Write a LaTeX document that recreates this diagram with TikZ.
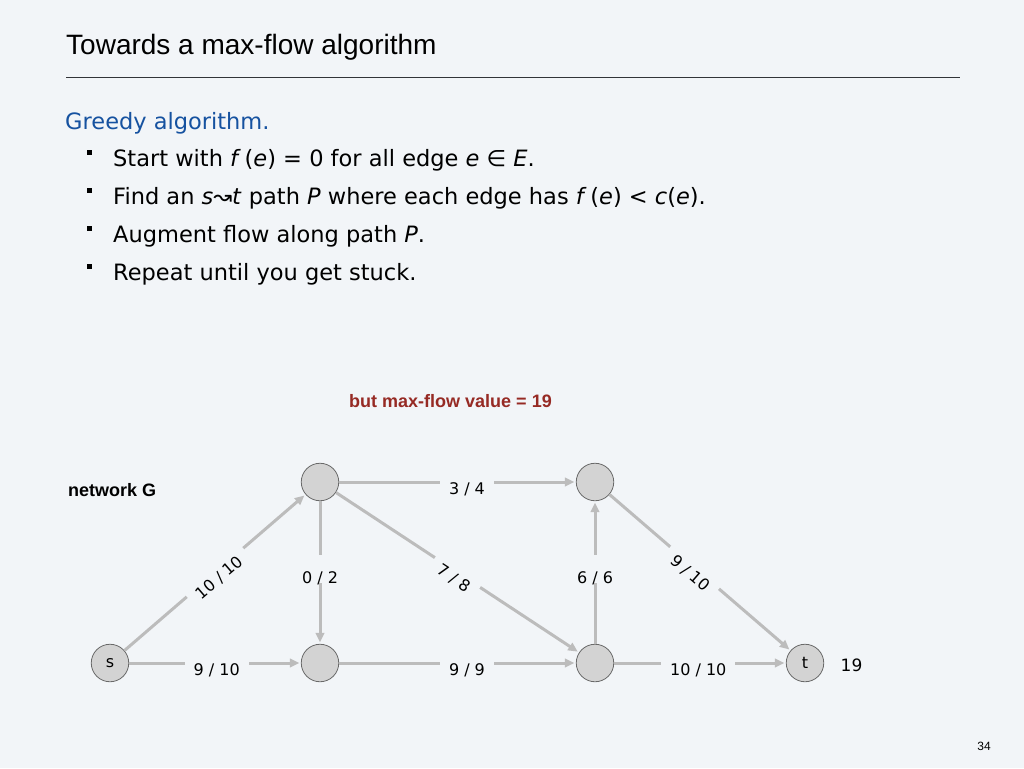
\documentclass[tikz,border=0pt]{standalone}
\usepackage{fontspec}
\setmainfont{DejaVu Sans}
\newfontfamily\arial{Liberation Sans}
\usetikzlibrary{arrows.meta}
\definecolor{bg}{RGB}{242,245,248}
\definecolor{edgegray}{RGB}{188,188,188}
\definecolor{nodegray}{RGB}{211,211,211}
\definecolor{nodeline}{RGB}{105,105,105}
\definecolor{rulegray}{RGB}{50,52,56}
\definecolor{headblue}{RGB}{22,82,160}
\definecolor{darkred}{RGB}{150,42,36}
\tikzset{
  vertex/.style={circle, minimum size=37.5pt, inner sep=0pt, fill=nodegray, draw=nodeline, line width=0.8pt, font=\fontsize{16}{18}\selectfont},
  edge/.style={draw=edgegray, line width=3pt, -{Triangle[length=9.5pt,width=8.5pt]}, shorten >=1.5pt},
  lab/.style={fill=bg, font=\fontsize{16}{18}\selectfont, inner xsep=9pt, inner ysep=3pt, text=black},
  slab/.style={lab, midway, sloped, anchor=north, outer ysep=-2.5pt},
  hlab/.style={lab, anchor=north, outer ysep=-2.5pt},
  vlab/.style={lab, midway, text height=28pt, text depth=0pt, inner ysep=0pt, inner xsep=2pt, yshift=3.5pt},
  bul/.style={fill=black},
  body/.style={anchor=base west, inner sep=0pt, font=\fontsize{22.5}{26}\selectfont}
}
\begin{document}
\begin{tikzpicture}[x=1pt,y=-1pt]
\fill[bg] (0,0) rectangle (1024,768);
\useasboundingbox (0,0) rectangle (1024,768);

% title
\node[anchor=base west, inner sep=0pt, font=\arial\fontsize{28}{32}\selectfont] (title) at (66,55) {Towards a max-flow algorithm};
\draw[rulegray, line width=1.4pt] (66,77.5) -- (960,77.5);

% text
\node[body, text=headblue] (greedy) at (65,129) {Greedy algorithm.};
\fill[bul] (86.5,149.5) rectangle (91.5,154.5);
\node[body] (b1) at (113,166.5) {Start with \textit{f}\,(\textit{e}) = 0 for all edge \textit{e} ∈ \textit{E}.};
\fill[bul] (86.5,187.5) rectangle (91.5,192.5);
\node[body] (b2) at (113,204.5) {Find an \textit{s}↝\textit{t} path \textit{P} where each edge has \textit{f}\,(\textit{e}) < \textit{c}(\textit{e}).};
\fill[bul] (86.5,225.5) rectangle (91.5,230.5);
\node[body] (b3) at (113,242.5) {Augment flow along path \textit{P}.};
\fill[bul] (86.5,263.5) rectangle (91.5,268.5);
\node[body] (b4) at (113,280.5) {Repeat until you get stuck.};

\node[anchor=base, inner sep=0pt, text=darkred, font=\arial\bfseries\fontsize{18}{20}\selectfont] (maxflow) at (450.5,407) {but max-flow value = 19};
\node[anchor=base west, inner sep=0pt, font=\arial\bfseries\fontsize{18}{20}\selectfont] (netg) at (68,496) {network G};

% graph
\node[vertex] (s) at (110,663) {s};
\node[vertex] (a) at (320,482) {};
\node[vertex] (b) at (320,663) {};
\node[vertex] (c) at (595,482) {};
\node[vertex] (d) at (595,663) {};
\node[vertex] (t) at (805,663) {t};

\draw[edge] (s) -- node[slab] {10 / 10} (a);
\draw[edge] (s) -- node[hlab, pos=0.51] {9 / 10} (b);
\draw[edge] (a) -- node[vlab] {0 / 2} (b);
\draw[edge] (a) -- node[hlab, pos=0.54] {3 / 4} (c);
\draw[edge] (a) -- node[slab] {7 / 8} (d);
\draw[edge] (b) -- node[hlab, pos=0.54] {9 / 9} (d);
\draw[edge] (d) -- node[vlab] {6 / 6} (c);
\draw[edge] (c) -- node[slab, pos=0.47] {9 / 10} (t);
\draw[edge] (d) -- node[hlab, pos=0.49] {10 / 10} (t);

\node[font=\fontsize{17}{19}\selectfont, inner sep=0pt] (val) at (851.5,665.5) {19};
\node[font=\arial\fontsize{12}{14}\selectfont, inner sep=0pt] (page) at (984,746) {34};
\end{tikzpicture}
\end{document}
